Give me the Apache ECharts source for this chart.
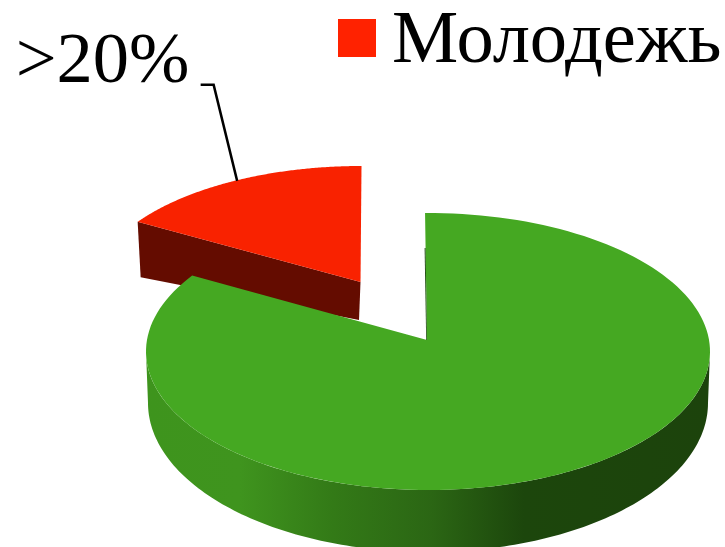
<!DOCTYPE html>
<html><head><meta charset="utf-8">
<style>html,body{margin:0;padding:0;background:#fff}#c{width:725px;height:547px}</style>
<script src="https://cdn.jsdelivr.net/npm/echarts@6/dist/echarts.min.js"></script>
</head><body><div id="c"></div>
<script>
const categories = ['Молодежь', 'Остальные'];
const shares = [15.6, 84.4];
const sliceLabels = ['>20%'];
const legendNames = ['Молодежь'];

const total = shares[0] + shares[1];
const rad = d => d * Math.PI / 180;
const FONT = '"Liberation Serif","Times New Roman",serif';
const RED = '#f92200', RED_SIDE = '#640c00', GREEN = '#45a822';

function rim(e, deg) {
  return [e.cx + e.rx * Math.sin(rad(deg)), e.cy - e.ry * Math.cos(rad(deg))];
}
function arc(e, a, b) {
  const n = 160, out = [];
  for (let i = 0; i <= n; i++) out.push(rim(e, a + (b - a) * i / n));
  return out;
}

// projected ellipses of the tilted disc
const greenTop = { cx: 428, cy: 351.5, rx: 282, ry: 138.5 };
const greenBottom = { cx: 428, cy: 403, rx: 280, ry: 149 };
const greenApex = [427, 340];
const redTop = { cx: 361.5, cy: 292, rx: 269.5, ry: 126 };
const redApex = [360.5, 282];
const redDrop = { left: [3, 55.5], right: [-1.5, 38] };

function renderGreen(params, api) {
  const start = -0.6;
  const end = start + api.value(0) / total * 360;
  const wall = arc(greenTop, 90, 270).concat(arc(greenBottom, 270, 90));
  const inner = [[424.6, 248], [426.2, 340], [427, 340], [425.6, 248]];
  return { type: 'group', children: [
    { type: 'polygon', shape: { points: wall }, style: { fill: {
      type: 'linear', x: 146, y: 0, x2: 710, y2: 0, global: true,
      colorStops: [
        { offset: 0, color: '#3e941d' }, { offset: 0.167, color: '#3f941e' },
        { offset: 0.33, color: '#337a17' }, { offset: 0.507, color: '#2b6614' },
        { offset: 0.67, color: '#1c460c' }, { offset: 1, color: '#1c430c' }
      ] } } },
    { type: 'polygon', shape: { points: arc(greenTop, start, end).concat([greenApex]) },
      style: { fill: GREEN } },
    { type: 'polygon', shape: { points: inner }, style: { fill: '#1f4f10' } }
  ] };
}

function renderRed(params, api) {
  const start = 360 - api.value(0) / total * 360;
  const end = 360;
  const tip = rim(redTop, start);
  const wall = [tip, redApex,
    [redApex[0] + redDrop.right[0], redApex[1] + redDrop.right[1]],
    [tip[0] + redDrop.left[0], tip[1] + redDrop.left[1]]];
  const mid = rim(redTop, (start + end) / 2);
  return { type: 'group', children: [
    { type: 'polygon', shape: { points: wall }, style: { fill: RED_SIDE } },
    { type: 'polygon', shape: { points: arc(redTop, start, end).concat([redApex]) }, style: { fill: RED } },
    { type: 'polyline', shape: { points: [[mid[0] + 2.5, mid[1]], [mid[0] - 21, mid[1] - 96], [mid[0] - 34, mid[1] - 96]] },
      style: { stroke: '#000', lineWidth: 2.5, fill: null } },
    { type: 'text', style: { text: sliceLabels[0], x: mid[0] - 219, y: mid[1] - 81, verticalAlign: 'bottom',
      align: 'left', font: '72.5px ' + FONT, fill: '#000' } }
  ] };
}

const chart = echarts.init(document.getElementById('c'), null, { renderer: 'canvas' });
chart.setOption({
  animation: false,
  backgroundColor: '#fff',
  legend: {
    data: legendNames, left: 338, top: 5, padding: 0, itemGap: 0,
    icon: 'rect', itemWidth: 38, itemHeight: 38,
    formatter: '{t|{name}}',
    textStyle: { rich: { t: { fontFamily: FONT, fontSize: 74.5, color: '#000', lineHeight: 84,
      verticalAlign: 'bottom', padding: [0, 0, 0, 11] } } },
    selectedMode: false
  },
  series: [
    { type: 'custom', name: categories[0], coordinateSystem: 'none', renderItem: renderRed,
      data: [[shares[0]]], itemStyle: { color: '#ff2200' }, silent: true, clip: false },
    { type: 'custom', name: categories[1], coordinateSystem: 'none', renderItem: renderGreen,
      data: [[shares[1]]], itemStyle: { color: GREEN }, silent: true, clip: false }
  ]
});
</script></body></html>
